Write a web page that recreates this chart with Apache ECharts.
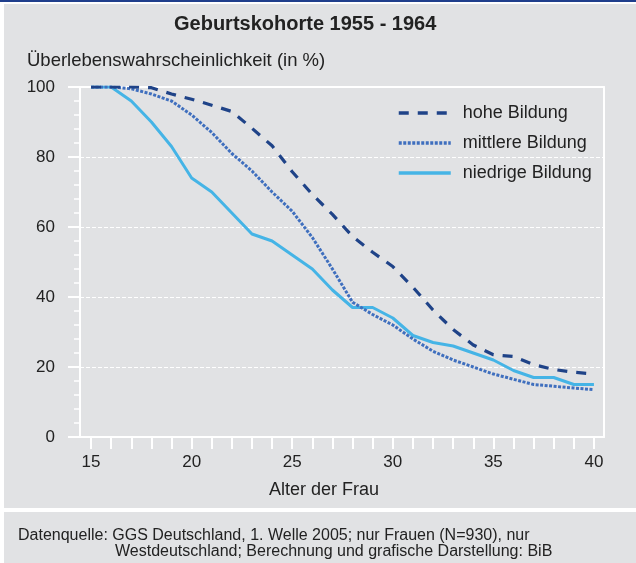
<!DOCTYPE html>
<html><head><meta charset="utf-8">
<script src="https://cdn.jsdelivr.net/npm/echarts@6/dist/echarts.min.js"></script>
<style>html,body{margin:0;padding:0;background:#fff}#c{width:636px;height:563px}</style>
</head><body><div id="c"></div>
<script>
const ages = [15,16,17,18,19,20,21,22,23,24,25,26,27,28,29,30,31,32,33,34,35,36,37,38,39,40];
const xTickLabels = [15,20,25,30,35,40];
const yTickLabels = [0,20,40,60,80,100];
const hoheBildung     = [100,100,100,99.8,98,96.5,94.8,93,88.2,83.2,75.8,69.3,63.6,57.3,52.8,48.7,42.8,36.3,30.7,26.3,23.5,23,20.7,19.3,18.5,18];
const mittlereBildung = [100,100,99.5,98,96,92,87,81,76,70,64.5,57,48,38.5,35,32,28,24.5,22,20,18,16.5,15,14.5,14,13.5];
const niedrigeBildung = [100,100,96,90,83,74,70,64,58,56,52,48,42,37,37,34,29,27,26,24,22,19,17,17,15,15];
const seriesNames = ['hohe Bildung','mittlere Bildung','niedrige Bildung'];
const titleText = 'Geburtskohorte 1955 - 1964';
const yName = 'Überlebenswahrscheinlichkeit (in %)';
const xName = 'Alter der Frau';
const source1 = 'Datenquelle: GGS Deutschland, 1. Welle 2005; nur Frauen (N=930), nur';
const source2 = 'Westdeutschland; Berechnung und grafische Darstellung: BiB';

const FONT = "'Liberation Sans', Arial, sans-serif";
const TXT = '#222';
const pairs = arr => ages.map((a, i) => [a, arr[i]]);

const chart = echarts.init(document.getElementById('c'), null, {renderer: 'canvas'});
chart.setOption({
  animation: false,
  backgroundColor: '#ffffff',
  graphic: [
    {type: 'rect', shape: {x: 0, y: 0, width: 636, height: 2}, style: {fill: '#1f3e8c'}, z: -10, silent: true},
    {type: 'rect', shape: {x: 4, y: 4, width: 632, height: 504}, style: {fill: '#e1e2e4'}, z: -10, silent: true},
    {type: 'rect', shape: {x: 4, y: 512, width: 632, height: 51}, style: {fill: '#e1e2e4'}, z: -10, silent: true}
  ],
  title: [
    {text: titleText, left: 174, top: 14, padding: 0,
     textStyle: {fontFamily: FONT, fontSize: 20, fontWeight: 'bold', color: TXT}},
    {text: yName, left: 27, top: 51, padding: 0,
     textStyle: {fontFamily: FONT, fontSize: 18.5, fontWeight: 'normal', color: TXT}},
    {text: source1, left: 18, top: 528, padding: 0,
     textStyle: {fontFamily: FONT, fontSize: 16, fontWeight: 'normal', color: TXT}},
    {text: source2, left: 115, top: 544, padding: 0,
     textStyle: {fontFamily: FONT, fontSize: 16, fontWeight: 'normal', color: TXT}}
  ],
  legend: {
    orient: 'vertical', left: 397, top: 104, padding: 0,
    itemWidth: 52, itemHeight: 20, itemGap: 12,
    data: seriesNames,
    itemStyle: {color: 'rgba(0,0,0,0)', opacity: 0, borderWidth: 0},
    lineStyle: {width: 3.5},
    textStyle: {fontFamily: FONT, fontSize: 18, color: TXT, padding: [0, 0, 0, 7]}
  },
  grid: {left: 80, right: 32, top: 87, bottom: 126, containLabel: false},
  xAxis: [
    {type: 'value', position: 'bottom', min: 14.45, max: 40.5,
     name: xName, nameLocation: 'middle', nameGap: 44,
     nameTextStyle: {fontFamily: FONT, fontSize: 18, color: TXT, padding: [0, 36, 0, 0]},
     axisLine: {show: true, onZero: false, lineStyle: {color: '#fff', width: 2}},
     axisTick: {show: true, customValues: ages, length: 12, lineStyle: {color: '#fff', width: 2}},
     axisLabel: {customValues: xTickLabels, margin: 17, fontFamily: FONT, fontSize: 17, color: TXT},
     splitLine: {show: false}},
    {type: 'value', position: 'top', min: 14.45, max: 40.5,
     axisLine: {show: true, onZero: false, lineStyle: {color: '#fff', width: 2}},
     axisTick: {show: false}, axisLabel: {show: false}, splitLine: {show: false}}
  ],
  yAxis: [
    {type: 'value', min: 0, max: 100, interval: 20,
     axisLine: {show: true, onZero: false, lineStyle: {color: '#fff', width: 2}},
     axisTick: {show: true, length: 12, lineStyle: {color: '#fff', width: 2}},
     minorTick: {show: true, splitNumber: 5, length: 6, lineStyle: {color: '#fff', width: 1.5}},
     axisLabel: {customValues: yTickLabels, margin: 25, fontFamily: FONT, fontSize: 17, color: TXT},
     splitLine: {show: true, lineStyle: {color: '#fff', width: 1, type: [4, 2]}}},
    {type: 'value', position: 'right', min: 0, max: 100,
     axisLine: {show: true, onZero: false, lineStyle: {color: '#fff', width: 2}},
     axisTick: {show: false}, axisLabel: {show: false}, splitLine: {show: false}}
  ],
  series: [
    {name: seriesNames[2], type: 'line', data: pairs(niedrigeBildung), symbol: 'none', z: 3,
     lineStyle: {color: '#45b4e6', width: 3, type: 'solid'}, itemStyle: {color: '#45b4e6'}},
    {name: seriesNames[1], type: 'line', data: pairs(mittlereBildung), symbol: 'none', z: 4,
     lineStyle: {color: '#3f6fbe', width: 3, type: [3, 1.5]}, itemStyle: {color: '#3f6fbe'}},
    {name: seriesNames[0], type: 'line', data: pairs(hoheBildung), symbol: 'none', z: 5,
     lineStyle: {color: '#1f4388', width: 3.2, type: [10, 9]}, itemStyle: {color: '#1f4388'}}
  ]
});
</script></body></html>
